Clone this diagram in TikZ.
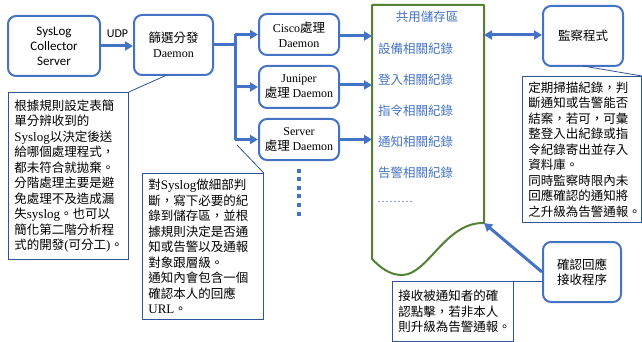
\documentclass[tikz,border=0pt]{standalone}
\usepackage{fontspec}
\setmainfont{Noto Sans CJK TC}
\newfontfamily\latfont{Liberation Serif}
\newfontfamily\calfont{Carlito}
\usetikzlibrary{arrows.meta,calc}
\definecolor{boxblue}{HTML}{4472C4}
\definecolor{noteblue}{HTML}{2F5597}
\definecolor{stgreen}{HTML}{548235}
\newcommand\LL[1]{{\latfont\fontsize{13}{15.5}\selectfont #1}}
\newcommand\DD[1]{{\latfont\fontsize{12}{15}\selectfont #1}}
\begin{document}
\begin{tikzpicture}[x=1pt,y=-1pt,
  box/.style={draw=boxblue, line width=2pt, rounded corners=8pt, align=center, inner sep=0pt, font=\fontsize{12.5}{15}\selectfont},
  arr/.style={draw=boxblue, line width=3pt, -{Triangle[length=8pt,width=9pt]}},
  note/.style={draw=noteblue, line width=0.8pt, anchor=north west, align=left, inner xsep=6pt, inner ysep=0pt, font=\fontsize{12.5}{15.5}\selectfont, fill=white},
  ptr/.style={draw=noteblue, line width=0.8pt},
  sttext/.style={text=boxblue, anchor=west, inner sep=0pt, font=\fontsize{12.5}{15}\selectfont},
]
\useasboundingbox (0,0) rectangle (642,342);

% main boxes
\node[box, minimum width=92pt, minimum height=60pt, font=\calfont\fontsize{13}{15}\selectfont] (syslog) at (54,46) {SysLog\\Collector\\Server};
\node[box, minimum width=79pt, minimum height=60pt] (filter) at (173.5,45) {篩選分發\\\DD{Daemon}};
\node[box, minimum width=80pt, minimum height=41pt] (cisco) at (299,34.5) {\DD{Cisco}處理\\\DD{Daemon}};
\node[box, minimum width=80pt, minimum height=42pt] (juniper) at (299,87) {\DD{Juniper}\\處理 \DD{Daemon}};
\node[box, minimum width=80pt, minimum height=41pt] (server) at (299,139.5) {\DD{Server}\\處理 \DD{Daemon}};
\node[box, minimum width=80pt, minimum height=60pt] (monitor) at (583,36) {監察程式};
\node[box, minimum width=78pt, minimum height=60pt] (confirm) at (582,272) {確認回應\\接收程序};

% storage
\coordinate (stL) at (372,5);
\coordinate (stR) at (484,5);
\coordinate (stBR) at (484,223);
\draw[stgreen, line width=2pt, line join=round] (stL) -- (stR) -- (stBR)
  .. controls (445,222) and (428,275) .. (402,275)
  .. controls (389,275) and (380,267) .. (372,259) -- cycle;
\node[text=boxblue, inner sep=0pt, font=\fontsize{12.5}{15}\selectfont] (sttitle) at (427,17) {共用儲存區};
\node[sttext] (st1) at (378,49) {設備相關紀錄};
\node[sttext] (st2) at (378,80) {登入相關紀錄};
\node[sttext] (st3) at (378,111) {指令相關紀錄};
\node[sttext] (st4) at (378,142) {通知相關紀錄};
\node[sttext] (st5) at (378,173) {告警相關紀錄};
\node[sttext, font=\latfont\fontsize{12}{15}\selectfont] (st6) at (377,202) {………};

% UDP arrow
\draw[arr] (syslog.east) -- (filter.west |- syslog.east);
\node[inner sep=0pt, font=\calfont\fontsize{12}{14}\selectfont] (udp) at (117.5,34) {UDP};

% trunk
\coordinate (trunk) at (235,45);
\draw[boxblue, line width=3pt] (filter.east |- trunk) -- (trunk);
\draw[boxblue, line width=3pt] (trunk |- cisco.west) -- (trunk |- server.west);
\draw[arr] (trunk |- cisco.west) -- (cisco.west);
\draw[arr] (trunk |- juniper.west) -- (juniper.west);
\draw[arr] (trunk |- server.west) -- (server.west);

% dots below server
\foreach \i in {0,...,5} {
  \fill[boxblue] (297,168.5+8.6*\i) rectangle (301,172.5+8.6*\i);
}

% daemons to storage
\draw[arr] ($(cisco.east)+(0,1.5)$) -- ($(cisco.east -| stL)+(0,1.5)$);
\draw[arr] ($(juniper.east)+(0,-2)$) -- ($(juniper.east -| stL)+(0,-2)$);
\draw[arr] (server.east) -- (server.east -| stL);

% monitor double arrow
\draw[arr, {Triangle[length=8pt,width=9pt]}-{Triangle[length=8pt,width=9pt]}] ($(stR |- monitor.west)+(0,-1)$) -- ($(monitor.west)+(0,-1)$);

% confirm arrow
\draw[arr] (confirm.west) -- (stBR);

% notes
\node[note, text width=108pt, minimum height=167pt] (n1) at (8,92) {%
根據規則設定表簡\\
單分辨收到的\\
\LL{Syslog}以決定後送\\
給哪個處理程式，\\
都未符合就拋棄。\\
分階處理主要是避\\
免處理不及造成漏\\
失\LL{syslog}。也可以\\
簡化第二階分析程\\
式的開發\LL{(}可分工\LL{)}。};
\coordinate (p1) at (167,75);
\draw[ptr] (n1.north east) -- (p1);

\node[note, text width=109pt, minimum height=146pt] (n2) at (142,173) {%
對\LL{Syslog}做細部判\\
斷，寫下必要的紀\\
錄到儲存區，並根\\
據規則決定是否通\\
知或告警以及通報\\
對象跟層級。\\
通知內會包含一個\\
確認本人的回應\\
\LL{URL}。};
\coordinate (p2) at (237,145);
\draw[ptr] (n2.north east) -- (p2);

\node[note, text width=107pt, minimum height=146pt] (n3) at (522,76) {%
定期掃描紀錄，判\\
斷通知或告警能否\\
結案，若可，可彙\\
整登入出紀錄或指\\
令紀錄寄出並存入\\
資料庫。\\
同時監察時限內未\\
回應確認的通知將\\
之升級為告警通報。};
\coordinate (p3) at (583,66);
\draw[ptr] (n3.north east) -- (p3);

\node[note, text width=109pt, minimum height=60pt] (n4) at (392,281) {%
接收被通知者的確\\
認點擊，若非本人\\
則升級為告警通報。};
\draw[ptr] (n4.north east) -- (confirm.west |- n4.north east);
\end{tikzpicture}
\end{document}
